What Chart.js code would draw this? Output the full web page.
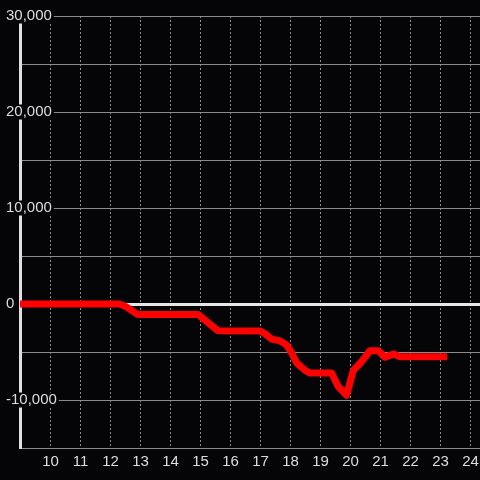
<!DOCTYPE html>
<html>
<head>
<meta charset="utf-8">
<script src="https://cdn.jsdelivr.net/npm/chart.js@4.4.1/dist/chart.umd.min.js"></script>
<style>
  html, body { margin: 0; padding: 0; background: #050507; }
  #wrap { width: 480px; height: 480px; }
</style>
</head>
<body>
<div id="wrap"><canvas id="myChart"></canvas></div>
<script>
// hour of day -> running balance
var hours   = [8.5, 12.3, 12.5, 12.9, 14.92, 15.58, 16.98, 17.15, 17.37, 17.65, 17.87, 18.04, 18.21, 18.48, 18.65, 19.37, 19.59, 19.87, 20.09, 20.37, 20.65, 20.93, 21.15, 21.43, 21.65, 23.22]
var balance = [0, 0, -250, -1090, -1090, -2780, -2800, -3100, -3650, -3850, -4270, -5100, -6150, -6900, -7200, -7200, -8600, -9500, -6950, -6000, -4870, -4870, -5550, -5200, -5500, -5500]
var xTicks = [10, 11, 12, 13, 14, 15, 16, 17, 18, 19, 20, 21, 22, 23, 24]
var yTicks = [-10000, 0, 10000, 20000, 30000]

var points = hours.map(function (h, i) { return {x: h, y: balance[i]} })

const ctx = document.getElementById('myChart')
const myChart = new Chart(ctx, {
    type: 'line',
    data: {
        datasets: [{
            data: points,
            borderColor: '#ff0000',
            borderWidth: 7,
            borderJoinStyle: 'round',
            pointRadius: 0,
            tension: 0,
            fill: false
        }]
    },
    options: {
        responsive: true,
        maintainAspectRatio: false,
        animation: false,
        layout: { padding: { left: 20, top: 16, right: 0, bottom: 0 } },
        plugins: { legend: { display: false }, tooltip: { enabled: false } },
        scales: {
            x: {
                type: 'linear',
                min: 8.983,
                max: 24.317,
                afterBuildTicks: function (s) { s.ticks = xTicks.map(function (v) { return {value: v} }) },
                afterFit: function (s) { s.height = 32; s.paddingLeft = 0; s.paddingRight = 0 },
                grid: { color: '#8a8a8a', lineWidth: 1, drawTicks: false },
                border: { display: false, dash: [2, 2] },
                ticks: {
                    color: '#dddddd',
                    font: { family: 'Liberation Sans', size: 15, lineHeight: 1 },
                    padding: 6,
                    maxRotation: 0,
                    autoSkip: false
                }
            },
            y: {
                min: -15000,
                max: 30000,
                afterFit: function (s) { s.width = 0; s.paddingTop = 0; s.paddingBottom = 0 },
                grid: {
                    drawTicks: false,
                    color: function (c) { return c.tick.value === 0 ? '#e6e6e6' : '#8a8a8a' },
                    lineWidth: function (c) { return c.tick.value === 0 ? 3 : 1 }
                },
                border: { color: '#e0e0e0', width: 3 },
                ticks: {
                    stepSize: 5000,
                    mirror: true,
                    padding: -14,
                    crossAlign: 'near',
                    color: '#dddddd',
                    font: { family: 'Liberation Sans', size: 15, lineHeight: 1 },
                    callback: function (v) { return yTicks.includes(v) ? v.toLocaleString('en-US') : '' },
                    showLabelBackdrop: function (c) { return yTicks.includes(c.tick.value) },
                    backdropColor: '#050507',
                    backdropPadding: { top: 0, bottom: 0, left: 2, right: 2 }
                }
            }
        }
    }
})
</script>
</body>
</html>
